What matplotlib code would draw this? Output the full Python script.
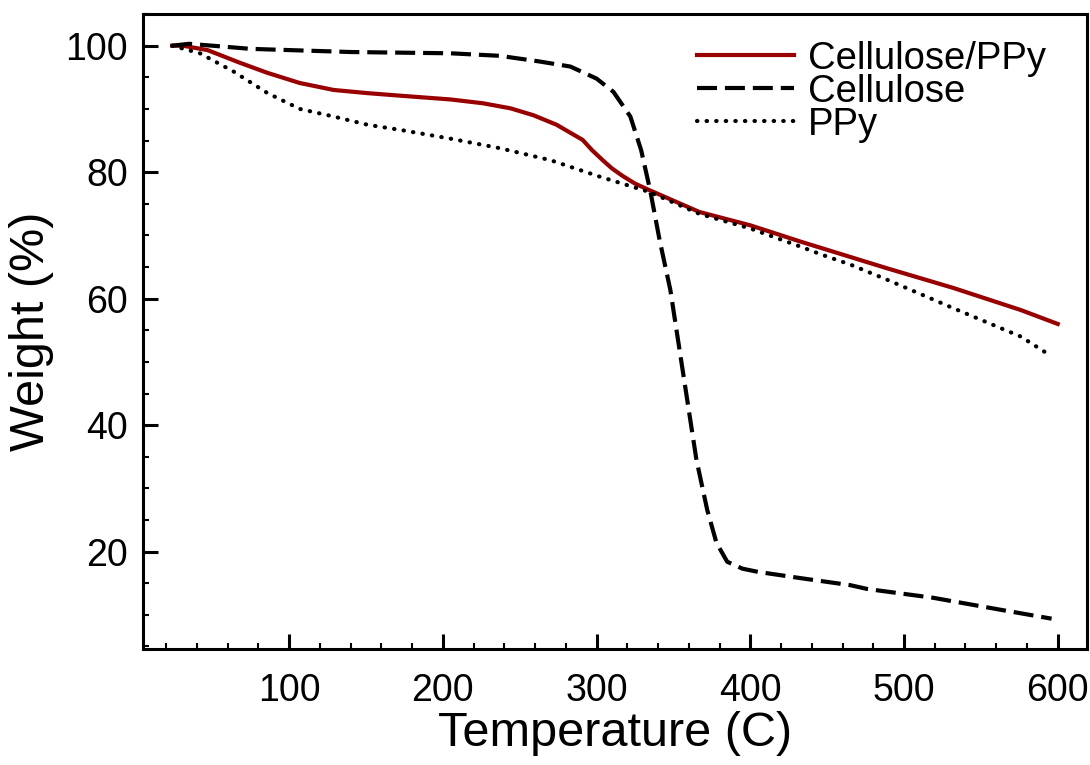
import matplotlib.pyplot as plt
from matplotlib.ticker import MultipleLocator

plt.rcParams['font.family'] = ['Liberation Sans', 'DejaVu Sans']

# Cellulose/PPy (trait plein rouge)
t_comp = [24, 31, 47, 68, 86, 107, 129, 151, 172, 205, 226, 244, 259, 274,
          291, 297, 304, 310, 317, 325, 334, 350, 367, 400, 433, 465, 489,
          532, 576, 600]
w_comp = [100.0, 100.0, 99.3, 97.3, 95.7, 94.1, 93.0, 92.5, 92.1, 91.5, 90.9,
          90.1, 89.0, 87.5, 85.1, 83.5, 81.9, 80.6, 79.4, 78.2, 77.2, 75.5,
          73.7, 71.6, 69.0, 66.6, 64.8, 61.7, 58.2, 56.0]

# Cellulose (tirets)
t_cell = [24, 35, 75, 140, 205, 237, 263, 283, 300, 311, 322, 329, 335, 341,
          348, 354, 360, 365, 372, 378, 385, 395, 405, 433, 465, 476, 519,
          563, 596]
w_cell = [100.0, 100.3, 99.5, 99.0, 98.8, 98.4, 97.5, 96.7, 94.8, 92.7, 88.8,
          83.5, 77.0, 69.3, 61.4, 51.9, 42.4, 34.5, 26.6, 21.4, 18.4, 17.3,
          16.8, 15.8, 14.7, 14.1, 12.7, 10.8, 9.4]

# PPy (pointillés)
t_ppy = [24, 42, 64, 86, 107, 129, 151, 172, 205, 237, 270, 302, 334, 367,
         400, 433, 446, 465, 489, 532, 576, 594]
w_ppy = [100.0, 98.8, 95.9, 92.5, 90.0, 88.8, 87.5, 86.7, 85.3, 83.8, 81.9,
         79.3, 76.9, 73.4, 71.1, 68.2, 67.0, 65.4, 63.0, 58.5, 54.0, 51.2]

fig = plt.figure(figsize=(10.9, 7.65), dpi=100)
ax = fig.add_axes([0.1312, 0.1516, 0.866, 0.830])

ax.plot(t_comp, w_comp, color='#990000', lw=3.0, label='Cellulose/PPy')
ax.plot(t_cell, w_cell, color='black', lw=3.0, ls=(0, (4.8, 1.9)),
        label='Cellulose')
ax.plot(t_ppy, w_ppy, color='black', lw=3.0, ls=(0, (0.1, 2.2)),
        dash_capstyle='round', label='PPy')

ax.set_xlim(5, 619)
ax.set_ylim(4.6, 105)
ax.xaxis.set_major_locator(MultipleLocator(100))
ax.xaxis.set_minor_locator(MultipleLocator(20))
ax.yaxis.set_major_locator(MultipleLocator(20))
ax.yaxis.set_minor_locator(MultipleLocator(5))

for s in ax.spines.values():
    s.set_linewidth(2.2)
ax.tick_params(which='both', direction='in', top=False, right=False)
ax.tick_params(which='major', length=11, width=2.2, labelsize=27)
ax.tick_params(which='minor', length=4.5, width=1.5)
ax.tick_params(axis='x', which='major', pad=17)
ax.tick_params(axis='y', which='major', pad=11)

ax.set_xlabel('Temperature (C)', fontsize=35, labelpad=2)
ax.set_ylabel('Weight (%)', fontsize=35, labelpad=8)

ax.legend(loc='upper left', bbox_to_anchor=(0.587, 0.958), frameon=False,
          fontsize=27.5, borderpad=0, borderaxespad=0, handlelength=2.55,
          handletextpad=0.35, labelspacing=-0.08)

fig.savefig('out.png', dpi=100)
